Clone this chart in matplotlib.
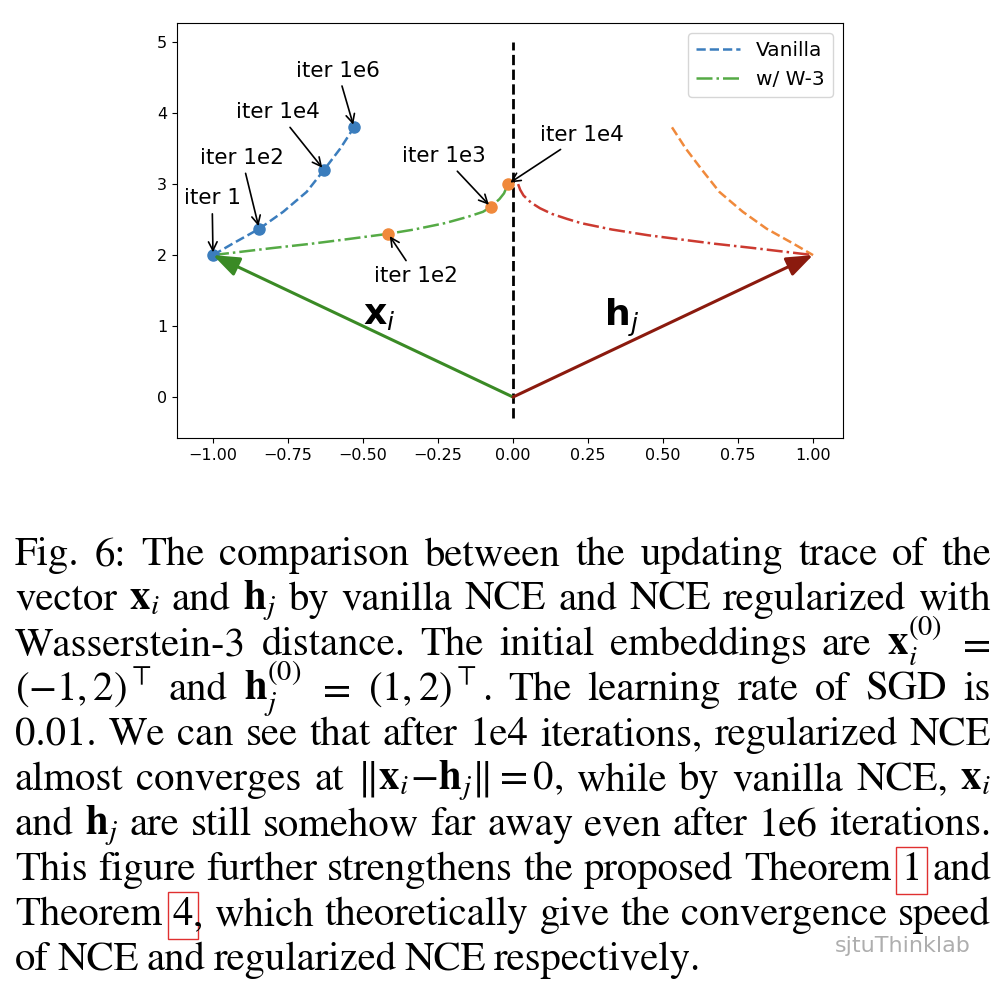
import matplotlib
matplotlib.use("Agg")
import matplotlib.pyplot as plt

# ---- data ----
vanilla_x_x = [-1.0, -0.933, -0.846, -0.766, -0.688, -0.630, -0.576, -0.530]
vanilla_x_y = [2.0, 2.165, 2.37, 2.61, 2.89, 3.20, 3.50, 3.80]
vanilla_h_x = [0.530, 0.576, 0.630, 0.688, 0.766, 0.846, 0.933, 1.0]
vanilla_h_y = [3.80, 3.50, 3.20, 2.89, 2.61, 2.37, 2.165, 2.0]
vanilla_mark_x = [-1.0, -0.846, -0.630, -0.530]
vanilla_mark_y = [2.0, 2.37, 3.20, 3.80]

w3_x_x = [-1.0, -0.80, -0.672, -0.56, -0.416, -0.33, -0.227, -0.15, -0.10,
          -0.074, -0.045, -0.030, -0.017]
w3_x_y = [2.0, 2.10, 2.16, 2.22, 2.30, 2.36, 2.45, 2.54, 2.61,
          2.68, 2.79, 2.87, 3.0]
w3_h_x = [0.017, 0.024, 0.035, 0.060, 0.090, 0.130, 0.180, 0.227, 0.330,
          0.450, 0.560, 0.672, 0.800, 0.900, 1.0]
w3_h_y = [3.0, 2.92, 2.84, 2.74, 2.66, 2.58, 2.51, 2.45, 2.36,
          2.28, 2.22, 2.16, 2.10, 2.05, 2.0]
w3_mark_x = [-0.416, -0.074, -0.017]
w3_mark_y = [2.30, 2.68, 3.0]

x_init = (-1, 2)
h_init = (1, 2)

# (label, marker point, text position)
annotations = [
    ("iter 1", (-1.0, 2.0), (-1.003, 2.80)),
    ("iter 1e2", (-0.846, 2.37), (-0.904, 3.37)),
    ("iter 1e4", (-0.630, 3.20), (-0.783, 4.01)),
    ("iter 1e6", (-0.530, 3.80), (-0.585, 4.60)),
    ("iter 1e2", (-0.416, 2.30), (-0.323, 1.71)),
    ("iter 1e3", (-0.074, 2.68), (-0.232, 3.39)),
    ("iter 1e4", (-0.017, 3.0), (0.231, 3.69)),
]

caption_lines = [
    "Fig. 6: The comparison between the updating trace of the",
    r"vector $\mathbf{x}_i$ and $\mathbf{h}_j$ by vanilla NCE and NCE regularized with",
    r"Wasserstein-3 distance. The initial embeddings are $\mathbf{x}_i^{(0)}$ $=$",
    r"$(-1,2)^\top$ and $\mathbf{h}_j^{(0)}$ $=$ $(1,2)^\top$. The learning rate of SGD is",
    "0.01. We can see that after 1e4 iterations, regularized NCE",
    r"almost converges at $\|\mathbf{x}_i\!-\!\mathbf{h}_j\|=0$, while by vanilla NCE, $\mathbf{x}_i$",
    r"and $\mathbf{h}_j$ are still somehow far away even after 1e6 iterations.",
    "This figure further strengthens the proposed Theorem [1] and",
    "Theorem [4], which theoretically give the convergence speed",
    "of NCE and regularized NCE respectively.",
]

BLUE = "#3b7dbd"
ORANGE = "#f0893b"
GREEN = "#55aa45"
RED = "#cc3a30"
DARKGREEN = "#3a8a25"
DARKRED = "#8b1a0e"

W, H = 1006, 996
fig = plt.figure(figsize=(W / 100, H / 100), dpi=100)
ax = fig.add_axes([177 / W, 1 - 438 / H, 666 / W, 415 / H])

ax.plot([0, 0], [-0.3, 5.0], color="k", ls="--", lw=2)
ax.plot(vanilla_x_x, vanilla_x_y, color=BLUE, ls="--", lw=1.8, label="Vanilla")
ax.plot(w3_x_x, w3_x_y, color=GREEN, ls="-.", lw=1.8, label="w/ W-3")
ax.plot(vanilla_h_x, vanilla_h_y, color=ORANGE, ls="--", lw=1.8)
ax.plot(w3_h_x, w3_h_y, color=RED, ls="-.", lw=1.8)
ax.plot(w3_mark_x, w3_mark_y, "o", color=ORANGE, ms=8)
ax.plot(vanilla_mark_x, vanilla_mark_y, "o", color=BLUE, ms=8)

# embedding vectors
ax.annotate("", xy=x_init, xytext=(0, 0),
            arrowprops=dict(arrowstyle="-|>,head_length=0.8,head_width=0.3",
                            color=DARKGREEN, lw=2.2, shrinkA=0, shrinkB=0,
                            mutation_scale=20))
ax.annotate("", xy=h_init, xytext=(0, 0),
            arrowprops=dict(arrowstyle="-|>,head_length=0.8,head_width=0.3",
                            color=DARKRED, lw=2.2, shrinkA=0, shrinkB=0,
                            mutation_scale=20))
ax.text(-0.446, 1.155, r"$\mathbf{x}_i$", fontsize=26, ha="center", va="center")
ax.text(0.362, 1.12, r"$\mathbf{h}_j$", fontsize=26, ha="center", va="center")

for label, pt, txt in annotations:
    ax.annotate(label, xy=pt, xytext=txt, fontsize=15.5, ha="center", va="center",
                arrowprops=dict(arrowstyle="->", color="k", lw=1.2))

ax.set_xlim(-1.12, 1.10)
ax.set_ylim(-0.577, 5.27)
ax.set_xticks([-1.0, -0.75, -0.5, -0.25, 0.0, 0.25, 0.5, 0.75, 1.0])
ax.set_yticks([0, 1, 2, 3, 4, 5])
ax.tick_params(labelsize=11.5)
ax.legend(loc="upper right", fontsize=14.5, handlelength=2.2)

# ---- caption, justified ----
renderer = fig.canvas.get_renderer()
left, right = 15, 991
base0, step = 565, 45
cap_kw = dict(fontsize=29.3, family="STIXGeneral", math_fontfamily="stix",
              va="baseline", ha="left")


def split_word(word):
    if word.startswith("[") and "]" in word:
        inner, rest = word[1:].split("]", 1)
        pieces = [(inner, True)]
        if rest:
            pieces.append((rest, False))
        return pieces
    return [(word, False)]


for k, line in enumerate(caption_lines):
    y = 1 - (base0 + k * step) / H
    words = []
    for word in line.split(" "):
        objs = []
        for txt, boxed in split_word(word):
            t = fig.text(0, y, txt, **cap_kw)
            if boxed:
                t.set_bbox(dict(boxstyle="square,pad=0.12", fc="none",
                                ec="#e03030", lw=1.0))
            objs.append((t, t.get_window_extent(renderer).width))
        words.append(objs)
    widths = [sum(w for _, w in objs) for objs in words]
    if k < len(caption_lines) - 1:
        gap = (right - left - sum(widths)) / (len(words) - 1)
    else:
        gap = 8
    x = left
    for objs, wsum in zip(words, widths):
        xx = x
        for t, w in objs:
            t.set_x(xx / W)
            xx += w
        x += wsum + gap

fig.text(835 / W, 1 - 952 / H, "sjtuThinklab", fontsize=16, color="#8c8c8c",
         alpha=0.7, va="baseline")

fig.savefig("out.png", dpi=100)
